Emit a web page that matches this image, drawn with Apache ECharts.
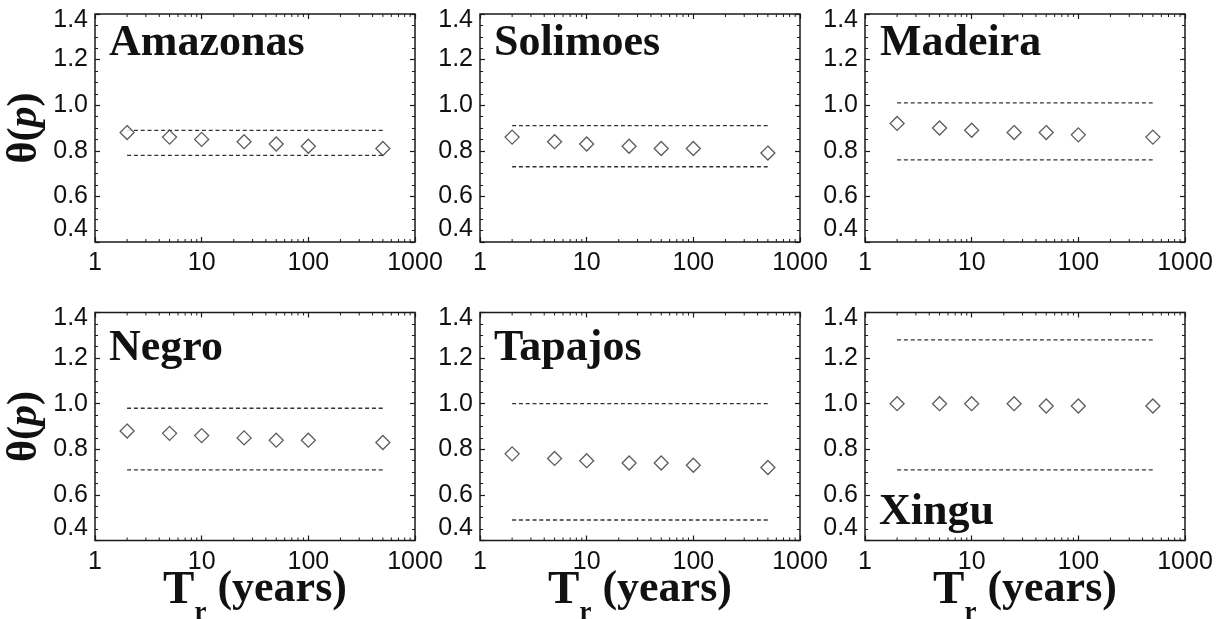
<!DOCTYPE html>
<html>
<head>
<meta charset="utf-8">
<script src="https://cdn.jsdelivr.net/npm/echarts@6/dist/echarts.min.js"></script>
<style>
html,body{margin:0;padding:0;background:#fff;}
#chart{width:1219px;height:619px;}
</style>
</head>
<body>
<div id="chart"></div>
<script>
// ---- data ----
const rivers = ['Amazonas', 'Solimoes', 'Madeira', 'Negro', 'Tapajos', 'Xingu'];
const returnPeriods = [2, 5, 10, 25, 50, 100, 500];
const amazonas = [0.88, 0.86, 0.85, 0.84, 0.83, 0.82, 0.81];
const solimoes = [0.86, 0.84, 0.83, 0.82, 0.81, 0.81, 0.79];
const madeira  = [0.92, 0.90, 0.89, 0.88, 0.88, 0.87, 0.86];
const negro    = [0.88, 0.87, 0.86, 0.85, 0.84, 0.84, 0.83];
const tapajos  = [0.78, 0.76, 0.75, 0.74, 0.74, 0.73, 0.72];
const xingu    = [1.00, 1.00, 1.00, 1.00, 0.99, 0.99, 0.99];
const upperBound = [0.89, 0.91, 1.01, 0.98, 1.00, 1.28];
const lowerBound = [0.78, 0.73, 0.76, 0.71, 0.49, 0.71];
const boundRange = [2, 500];
const xTickLabels = [1, 10, 100, 1000];
const yTickLabels = [0.4, 0.6, 0.8, 1.0, 1.2, 1.4];
const logMinorTicks = [2,3,4,5,6,7,8,9,20,30,40,50,60,70,80,90,200,300,400,500,600,700,800,900];

const seriesValues = [amazonas, solimoes, madeira, negro, tapajos, xingu];

// ---- layout ----
const lefts = [95, 480, 865];
const tops = [14, 312.5];
const W = 320, H = 228;
const titlePos = [
  {left: 109, top: 22}, {left: 494, top: 22}, {left: 880, top: 22},
  {left: 109, top: 327}, {left: 494, top: 327}, {left: 879, top: 491}
];
const ink = '#1a1a1a';
const yMin = yTickLabels[0], yMax = yTickLabels[yTickLabels.length - 1];

const grid = [], xAxis = [], yAxis = [], series = [], title = [];

for (let i = 0; i < 6; i++) {
  const row = Math.floor(i / 3), col = i % 3;
  grid.push({left: lefts[col], top: tops[row], width: W, height: H, show: true,
    outerBoundsMode: 'none', containLabel: false,
    borderColor: ink, borderWidth: 1.5, backgroundColor: 'transparent'});
  const xBase = {
    type: 'log', logBase: 10, min: xTickLabels[0], max: xTickLabels[xTickLabels.length - 1],
    gridIndex: i, axisLine: {show: false}, splitLine: {show: false},
    axisTick: {inside: true, length: 5, lineStyle: {color: ink, width: 1.2}}
  };
  const xb = Object.assign({}, xBase, {
    position: 'bottom',
    axisLabel: {fontFamily: 'Liberation Sans', fontSize: 25, color: '#111', margin: 9,
      formatter: v => String(Math.round(v))}
  });
  if (row === 1) {
    xb.name = '{t|T}{s|r}{n| (years)}';
    xb.nameLocation = 'middle';
    xb.nameGap = 27;
    xb.nameMoveOverlap = false;
    xb.nameTextStyle = {
      rich: {
        t: {fontFamily: 'Liberation Serif', fontWeight: 'bold', fontSize: 47, color: '#111', lineHeight: 47, verticalAlign: 'top'},
        s: {fontFamily: 'Liberation Serif', fontWeight: 'bold', fontSize: 27, color: '#111', lineHeight: 59, verticalAlign: 'bottom'},
        n: {fontFamily: 'Liberation Serif', fontWeight: 'bold', fontSize: 44, color: '#111', lineHeight: 47, verticalAlign: 'top'}
      }
    };
  }
  xAxis.push(xb);
  xAxis.push(Object.assign({}, xBase, {position: 'top', axisLabel: {show: false}}));

  const yBase = {
    type: 'value', min: yMin, max: yMax, interval: 0.2, gridIndex: i,
    axisLine: {show: false}, splitLine: {show: false},
    axisTick: {inside: true, length: 5, lineStyle: {color: ink, width: 1.2}},
    minorTick: {show: true, splitNumber: 4, length: 3, lineStyle: {color: ink, width: 1}}
  };
  const yl = Object.assign({}, yBase, {
    position: 'left',
    axisLabel: {
      fontFamily: 'Liberation Sans', fontSize: 25, color: '#111', margin: 7,
      verticalAlignMinLabel: 'bottom',
      formatter: v => (Math.abs(v - yMax) < 1e-9 ? '{mx|' + v.toFixed(1) + '}' : v.toFixed(1)),
      rich: {mx: {fontFamily: 'Liberation Sans', fontSize: 25, color: '#111', padding: [12, 0, 0, 0]}}
    }
  });
  if (col === 0) {
    yl.name = '{a|θ(}{b|p}{a|)}';
    yl.nameLocation = 'middle';
    yl.nameRotate = 90;
    yl.nameGap = 49;
    yl.nameMoveOverlap = false;
    yl.nameTextStyle = {
      rich: {
        a: {fontFamily: 'Liberation Serif', fontWeight: 'bold', fontSize: 42, color: '#111'},
        b: {fontFamily: 'Liberation Serif', fontWeight: 'bold', fontStyle: 'italic', fontSize: 42, color: '#111'}
      }
    };
  }
  yAxis.push(yl);
  yAxis.push(Object.assign({}, yBase, {position: 'right', axisLabel: {show: false}}));

  const xi = 2 * i, yi = 2 * i;
  // bounds
  [upperBound[i], lowerBound[i]].forEach(b => {
    series.push({
      type: 'line', xAxisIndex: xi, yAxisIndex: yi, symbol: 'none', silent: true,
      data: [[boundRange[0], b], [boundRange[1], b]],
      lineStyle: {color: '#333', width: 1.3, type: [4, 2.8]}, z: 2
    });
  });
  // points
  series.push({
    type: 'scatter', xAxisIndex: xi, yAxisIndex: yi, symbol: 'diamond', symbolSize: [14, 14],
    data: returnPeriods.map((x, k) => [x, seriesValues[i][k]]),
    itemStyle: {color: '#fff', borderColor: '#333', borderWidth: 1.3}, z: 3
  });
  // log minor ticks (bottom and top)
  series.push({
    type: 'custom', xAxisIndex: xi, yAxisIndex: yi, silent: true, clip: false, z: 4,
    data: logMinorTicks.map(v => [v]),
    encode: {x: 0},
    renderItem: (params, api) => {
      const v = api.value(0);
      const b = api.coord([v, yMin]);
      const t = api.coord([v, yMax]);
      const st = {stroke: ink, lineWidth: 1};
      return {type: 'group', children: [
        {type: 'line', shape: {x1: b[0], y1: b[1], x2: b[0], y2: b[1] - 3}, style: st},
        {type: 'line', shape: {x1: t[0], y1: t[1], x2: t[0], y2: t[1] + 3}, style: st}
      ]};
    }
  });
  title.push({
    text: rivers[i], left: titlePos[i].left, top: titlePos[i].top, padding: 0,
    textStyle: {fontFamily: 'Liberation Serif', fontWeight: 'bold', fontSize: 44, color: '#111'}
  });
}

const chart = echarts.init(document.getElementById('chart'), null, {renderer: 'canvas'});
chart.setOption({animation: false, backgroundColor: '#fff', title, grid, xAxis, yAxis, series});
</script>
</body>
</html>
